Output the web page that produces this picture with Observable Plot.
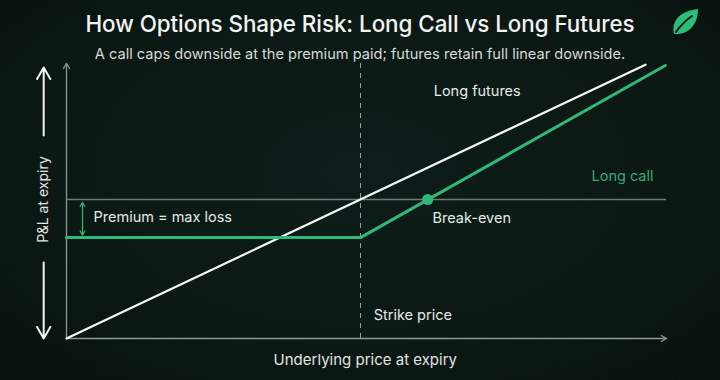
<!DOCTYPE html>
<html>
<head>
<meta charset="utf-8">
<script src="https://cdn.jsdelivr.net/npm/d3@7"></script>
<script src="https://cdn.jsdelivr.net/npm/@observablehq/plot@0.6"></script>
<style>
  html, body { margin: 0; padding: 0; }
  body {
    width: 720px; height: 380px; overflow: hidden;
    background: radial-gradient(ellipse at 50% 45%, #0e1d19 0%, #0b1814 60%, #08120f 100%);
    font-family: Inter, "Noto Sans", sans-serif;
  }
  #header { position: relative; height: 58px; }
  #title {
    position: absolute; left: 0; width: 720px; top: 10px; text-align: center;
    color: #f1f4f2; font-size: 22.4px; font-weight: 500; letter-spacing: -0.05px;
  }
  #subtitle {
    position: absolute; left: 0; width: 720px; top: 45px; text-align: center;
    color: #d6dbd8; font-size: 14.6px; font-weight: 400;
  }
  #leaf { position: absolute; left: 670px; top: 7px; }
  #chart svg { display: block; }
</style>
</head>
<body>
<div id="header">
  <div id="title">How Options Shape Risk: Long Call vs Long Futures</div>
  <div id="subtitle">A call caps downside at the premium paid; futures retain full linear downside.</div>
  <svg id="leaf" width="30" height="30" viewBox="0 0 30 30">
    <path d="M4,27 C1,15 9,4 28,2 C28,17 19,28 4,27 Z" fill="#2dbd7b"/>
    <path d="M6,25 C11,18 16,13 22,9" stroke="#0b1814" stroke-width="2" fill="none" stroke-linecap="round"/>
  </svg>
</div>
<div id="chart"></div>
<script>
// ---- data (price on x, P&L at expiry on y, arbitrary units) ----
const strike = 49;
const premium = 13.7;
const futuresPrice = [0, 96.5];
const futuresPnL = [-50, 48.5];
const callPrice = [0, 49, 99.8];
const callPnL = [-13.7, -13.7, 48.2];
const breakEvenPrice = [60.2];
const breakEvenPnL = [0];
const labelText = ["Long futures", "Long call", "Break-even", "Strike price", "Premium = max loss"];
const labelX = [61.2, 87.5, 61, 51.2, 4.5];
const labelY = [38.8, 8.3, -6.8, -41.7, -6.5];
const labelColor = ["#e6eae8", "#3ba874", "#e6eae8", "#e6eae8", "#e6eae8"];

const green = "#2fb877";
const axisGray = "#8d9893";

const futures = futuresPrice.map((x, i) => ({x, y: futuresPnL[i]}));
const call = callPrice.map((x, i) => ({x, y: callPnL[i]}));
const breakEven = breakEvenPrice.map((x, i) => ({x, y: breakEvenPnL[i]}));
const labels = labelText.map((t, i) => ({t, x: labelX[i], y: labelY[i], c: labelColor[i]}));

const chart = Plot.plot({
  width: 720,
  height: 322,
  marginLeft: 66,
  marginRight: 54,
  marginTop: 2,
  marginBottom: 42,
  x: {domain: [0, 100], axis: null},
  y: {domain: [-50, 50], axis: null},
  style: {background: "transparent", fontFamily: "Inter, 'Noto Sans', sans-serif", overflow: "visible"},
  marks: [
    // zero P&L line
    Plot.ruleY([0], {x1: 0, x2: 100, stroke: "#6f7a75", strokeWidth: 1.5}),
    // strike dashed line
    Plot.ruleX([strike], {y1: -50, y2: 49.5, stroke: "#9aa49f", strokeWidth: 1, strokeDasharray: "5,5"}),
    // y axis with arrow
    Plot.arrow([{x1: 0, y1: -50, x2: 0, y2: 49}], {x1: "x1", y1: "y1", x2: "x2", y2: "y2", stroke: axisGray, strokeWidth: 1.3, headLength: 7}),
    // x axis with arrow
    Plot.arrow([{x1: 0, y1: -50, x2: 100, y2: -50}], {x1: "x1", y1: "y1", x2: "x2", y2: "y2", stroke: axisGray, strokeWidth: 1.3, headLength: 7}),
    // premium double arrow
    Plot.arrow([
      {x1: 2.67, y1: -6.8, x2: 2.67, y2: -1.0},
      {x1: 2.67, y1: -6.8, x2: 2.67, y2: -premium + 0.9}
    ], {x1: "x1", y1: "y1", x2: "x2", y2: "y2", stroke: green, strokeWidth: 1.2, headLength: 6}),
    // lines
    Plot.line(futures, {x: "x", y: "y", stroke: "#f4f6f5", strokeWidth: 2.2}),
    Plot.line(call, {x: "x", y: "y", stroke: green, strokeWidth: 3}),
    Plot.dot(breakEven, {x: "x", y: "y", r: 5.5, fill: green}),
    // labels
    Plot.text(labels, {x: "x", y: "y", text: "t", fill: "c", fontSize: 14.5, textAnchor: "start"}),
    // axis titles
    Plot.text(["Underlying price at expiry"], {x: 49.8, y: -57.9, fill: "#e1e5e3", fontSize: 15}),
    Plot.text(["P&L at expiry"], {x: -3.8, y: 0, fill: "#e1e5e3", fontSize: 14, rotate: -90}),
    Plot.arrow([
      {x1: -3.8, y1: 23.0, x2: -3.8, y2: 47.5},
      {x1: -3.8, y1: -22.7, x2: -3.8, y2: -50}
    ], {x1: "x1", y1: "y1", x2: "x2", y2: "y2", stroke: "#f1f4f2", strokeWidth: 2, headLength: 10})
  ]
});
document.getElementById("chart").appendChild(chart);
</script>
</body>
</html>
